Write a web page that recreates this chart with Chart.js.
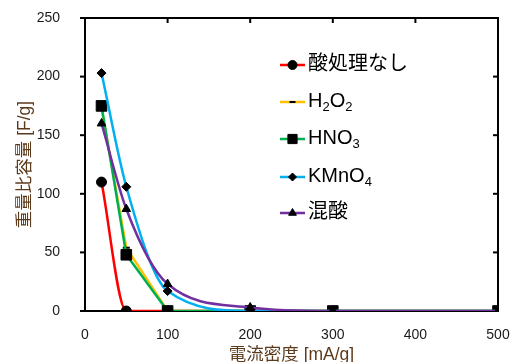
<!DOCTYPE html>
<html>
<head>
<meta charset="utf-8">
<script src="https://cdn.jsdelivr.net/npm/chart.js@4/dist/chart.umd.min.js"></script>
<style>
  html, body { margin: 0; padding: 0; background: #fff; }
  #wrap { width: 511px; height: 362px; }
</style>
</head>
<body>
<div id="wrap"><canvas id="cap_chart"></canvas></div>
<script>
"use strict";
// 電流密度 [mA/g]
var current = [20, 50, 100, 200, 300, 500];
// 重量比容量 [F/g]
var noAcid = [110, 0, 0, 0, 0, 0];
var h2o2 = [173, 54, 0, 0, 0, 0];
var hno3 = [175, 48, 0, 0, 0, 0];
var kmno4 = [203, 106, 17, 0, 0, 0];
var mixAcid = [160, 87, 23, 3, 0, 0];

var seriesNames = [
  [["酸処理なし", 0]],
  [["H", 0], ["2", 1], ["O", 0], ["2", 1]],
  [["HNO", 0], ["3", 1]],
  [["KMnO", 0], ["4", 1]],
  [["混酸", 0]],
];
var xTicks = [0, 100, 200, 300, 400, 500];
var yTicks = [0, 50, 100, 150, 200, 250];

var fontFamily = '"Liberation Sans", Arial, "Noto Sans CJK JP", sans-serif';

function toPoints(values) {
  return values.map(function (v, i) {
    return { x: current[i], y: v };
  });
}

var series = [
  { data: noAcid, color: "#ff0000", style: "circle", radius: 5, smooth: true },
  { data: h2o2, color: "#ffc000", style: "line", radius: 3.5, smooth: false },
  { data: hno3, color: "#00b050", style: "rect", radius: 7.5, smooth: false },
  { data: kmno4, color: "#00b0f0", style: "rectRot", radius: 4.5, smooth: true },
  { data: mixAcid, color: "#7030a0", style: "triangle", radius: 5, smooth: true },
];

var datasets = series.map(function (s, i) {
  return {
    label: seriesNames[i].map(function (p) { return p[0]; }).join(""),
    data: toPoints(s.data),
    borderColor: s.color,
    borderWidth: 2.5,
    backgroundColor: "#000",
    pointBackgroundColor: "#000",
    pointBorderColor: "#000",
    pointBorderWidth: s.style == "line" ? 2 : 1,
    pointStyle: s.style,
    pointRadius: s.radius,
    cubicInterpolationMode: s.smooth ? "monotone" : "default",
    tension: 0,
    order: series.length - i,
  };
});

// top / right frame and tick marks (bottom and left come from the scales)
function drawFrame(chart) {
  var ctx = chart.ctx;
  var xs = chart.scales.x;
  var ys = chart.scales.y;
  var L = xs.getPixelForValue(0), R = xs.getPixelForValue(500);
  var B = ys.getPixelForValue(0), T = ys.getPixelForValue(250);
  ctx.save();
  ctx.fillStyle = "black";
  ctx.fillRect(L - 1, T - 1, R - L + 2, 2);
  ctx.fillRect(R - 1, T - 1, 2, B - T + 2);
  ctx.fillRect(L - 1, T - 1, 2, B - T + 2);
  yTicks.forEach(function (v) {
    var py = ys.getPixelForValue(v);
    ctx.fillRect(L - 5, py - 1, 5, 2);
  });
  xTicks.slice(1, -1).forEach(function (v) {
    var px = xs.getPixelForValue(v);
    ctx.fillRect(px - 1, T, 2, 5);
  });
  yTicks.slice(1, -1).forEach(function (v) {
    var py = ys.getPixelForValue(v);
    ctx.fillRect(R - 5, py - 1, 5, 2);
  });
  ctx.restore();
}

function drawLegend(chart) {
  var ctx = chart.ctx;
  var rows = [65, 102, 139, 177, 213];
  ctx.save();
  series.forEach(function (s, i) {
    var y = rows[i];
    ctx.fillStyle = s.color;
    ctx.fillRect(280, y - 1.25, 25, 2.5);
    ctx.fillStyle = "#000";
    ctx.strokeStyle = "#000";
    ctx.lineWidth = s.style == "line" ? 2 : 1;
    var r = s.style == "rect" ? 6.5 : s.style == "line" ? 3 : s.radius - 0.5;
    Chart.helpers.drawPoint(ctx, { pointStyle: s.style, radius: r, borderWidth: ctx.lineWidth, rotation: 0 }, 292.5, y);
    // label text with subscripts
    var x = 308;
    ctx.textBaseline = "middle";
    ctx.textAlign = "left";
    seriesNames[i].forEach(function (part) {
      if (part[1]) {
        ctx.font = "13px " + fontFamily;
        ctx.fillText(part[0], x, y + 5);
      } else {
        ctx.font = "20px " + fontFamily;
        ctx.fillText(part[0], x, y - 1);
      }
      x += ctx.measureText(part[0]).width;
    });
  });
  ctx.restore();
}

var overlay = {
  id: "overlay",
  afterDraw: function (chart) {
    drawFrame(chart);
    drawLegend(chart);
  },
};

new Chart("cap_chart", {
  type: "line",
  data: { datasets: datasets },
  options: {
    responsive: true,
    maintainAspectRatio: false,
    animation: false,
    layout: { padding: { top: 18, right: 13, left: 0, bottom: 0 } },
    plugins: {
      legend: { display: false },
      tooltip: { enabled: false },
    },
    scales: {
      x: {
        type: "linear",
        min: 0,
        max: 500,
        afterBuildTicks: function (scale) {
          scale.ticks = xTicks.map(function (v) { return { value: v }; });
        },
        ticks: {
          color: "#1a1a1a",
          font: { family: fontFamily, size: 14 },
          padding: 8,
          maxRotation: 0,
        },
        grid: { display: false },
        border: { display: true, color: "#000", width: 2 },
        title: {
          display: true,
          text: "電流密度 [mA/g]",
          color: "#5c3a1c",
          font: { family: fontFamily, size: 17.5 },
          padding: { top: 0, bottom: -4 },
        },
        afterFit: function (scale) {
          scale.height = 51;
          scale.paddingLeft = 0;
          scale.paddingRight = 0;
        },
      },
      y: {
        type: "linear",
        min: 0,
        max: 250,
        afterBuildTicks: function (scale) {
          scale.ticks = yTicks.map(function (v) { return { value: v }; });
        },
        ticks: {
          color: "#1a1a1a",
          font: { family: fontFamily, size: 14 },
          padding: 17,
        },
        grid: { display: false },
        border: { display: true, color: "#000", width: 2 },
        title: {
          display: true,
          text: "重量比容量 [F/g]",
          color: "#5c3a1c",
          font: { family: fontFamily, size: 17.5 },
          padding: { top: 15, bottom: 0 },
        },
        afterFit: function (scale) {
          scale.width = 85;
          scale.paddingTop = 0;
          scale.paddingBottom = 0;
        },
      },
    },
  },
  plugins: [overlay],
});
</script>
</body>
</html>
